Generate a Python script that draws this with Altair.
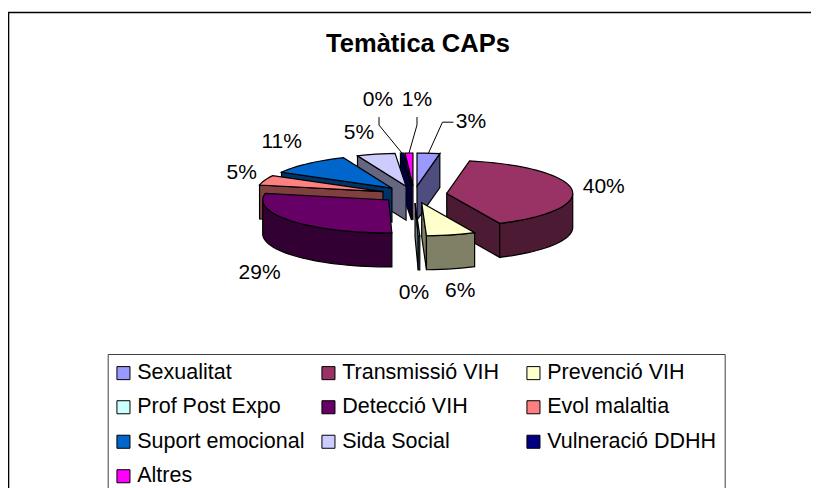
import math
import altair as alt

# ---- data
categories = ["Sexualitat", "Transmissió VIH", "Prevenció VIH", "Prof Post Expo", "Detecció VIH",
              "Evol malaltia", "Suport emocional", "Sida Social", "Vulneració DDHH", "Altres"]
values = [2.9, 40.2, 6.3, 0.2, 28.6, 4.8, 10.7, 4.9, 0.4, 1.0]
top_colors = ["#9999FF", "#993366", "#FFFFCC", "#CCFFFF", "#660066",
              "#FF8080", "#0066CC", "#CCCCFF", "#000080", "#FF00FF"]
wall_colors = ["#4D4D80", "#4D1A33", "#808066", "#668080", "#330033",
               "#804040", "#003366", "#666680", "#000040", "#800080"]
title_text = "Temàtica CAPs"

# ---- layout of the 3D pie (pixels inside the chart)
W, H = 803, 480
CX, CY = 406.0, 186.5
RX, RY = 126.0, 33.0
EX, EY = 33.0, 8.5
DEPTH = 34.0
paint_order = [0, 9, 8, 7, 6, 5, 4, 3, 1, 2]
label_nudge = [(42.5, -31), (32, -2), (9, 56), (-5, 57), (-32.5, 52),
               (-23, -7), (-26, -22), (-17, -21), (-24, -53), (8, -53)]
leaders = {0: [(14, -31), (25, -31)], 8: [(-23, -28), (-23, -36)], 9: [(8, -28), (8, -36)]}

total = sum(values)
edges = [0.0]
for v in values:
    edges.append(edges[-1] + v / total * 2 * math.pi)


def rim(ax, ay, t, drop=0.0):
    return [ax + RX * math.sin(t), ay - RY * math.cos(t) + drop]


def feature(coords, key):
    ring = [[round(x, 2), round(y, 2)] for x, y in coords]
    ring.append(ring[0])
    return {"type": "Feature", "properties": {"key": key},
            "geometry": {"type": "Polygon", "coordinates": [ring]}}


features, labels, leader_rows = [], [], []
for i in paint_order:
    t0, t1 = edges[i], edges[i + 1]
    mid = (t0 + t1) / 2
    ax, ay = CX + EX * math.sin(mid), CY - EY * math.cos(mid)
    wall = categories[i] + " (wall)"
    if math.sin(t0) < -1e-6:
        features.append(feature([[ax, ay], rim(ax, ay, t0), rim(ax, ay, t0, DEPTH), [ax, ay + DEPTH]], wall))
    if math.sin(t1) > 1e-6:
        features.append(feature([[ax, ay], rim(ax, ay, t1), rim(ax, ay, t1, DEPTH), [ax, ay + DEPTH]], wall))
    lo, hi = max(t0, math.pi / 2), min(t1, 3 * math.pi / 2)
    if hi > lo:
        n = max(2, int((hi - lo) / 0.05))
        ts = [lo + (hi - lo) * k / n for k in range(n + 1)]
        features.append(feature([rim(ax, ay, t) for t in ts] + [rim(ax, ay, t, DEPTH) for t in reversed(ts)], wall))
    n = max(2, int((t1 - t0) / 0.05))
    features.append(feature([[ax, ay]] + [rim(ax, ay, t0 + (t1 - t0) * k / n) for k in range(n + 1)], categories[i]))

    bx = CX + (EX + RX) * math.sin(mid)
    by = CY - (EY + RY) * math.cos(mid)
    labels.append({"x": bx + label_nudge[i][0], "y": by + label_nudge[i][1], "t": f"{round(values[i])}%"})
    if i in leaders:
        pts = [(0, 0)] + leaders[i]
        for k, (dx, dy) in enumerate(pts):
            leader_rows.append({"s": categories[i], "o": k, "x": bx + dx, "y": by + dy})

FONT = "Liberation Sans"
domain = categories + [c + " (wall)" for c in categories]
rng = top_colors + wall_colors

pie = alt.Chart(alt.InlineData(values=features, format=alt.DataFormat(type="json"))).mark_geoshape(
    stroke="black", strokeWidth=1.2
).encode(
    color=alt.Color("properties.key:N", scale=alt.Scale(domain=domain, range=rng), legend=alt.Legend(
        values=categories, title=None, orient="none", legendX=99.7, legendY=346, columns=3,
        direction="horizontal", gridAlign="all", symbolType="square", symbolSize=170,
        symbolOffset=-3, symbolStrokeColor="black", symbolStrokeWidth=1, labelFont=FONT,
        labelFontSize=21.5, labelColor="black", labelLimit=300, labelOffset=3, columnPadding=13,
        rowPadding=11.5, padding=8, strokeColor="#404040", fillColor="white")),
    tooltip=alt.value(None),
).project(type="identity", scale=1, translate=[0, 0])

text = alt.Chart(alt.Data(values=labels)).mark_text(
    font=FONT, fontSize=21, color="black", align="center", baseline="middle"
).encode(x=alt.X("x:Q", scale=None), y=alt.Y("y:Q", scale=None), text="t:N")

lead = alt.Chart(alt.Data(values=leader_rows)).mark_line(color="black", strokeWidth=1).encode(
    x=alt.X("x:Q", scale=None), y=alt.Y("y:Q", scale=None), detail="s:N", order="o:Q")

frame_top = alt.Chart(alt.Data(values=[{"a": 0}])).mark_rule(color="black", strokeWidth=1.6).encode(
    x=alt.value(0), x2=alt.value(W), y=alt.value(4.5))
frame_left = alt.Chart(alt.Data(values=[{"a": 0}])).mark_rule(color="black", strokeWidth=1.6).encode(
    x=alt.value(0.5), y=alt.value(4.5), y2=alt.value(H))

chart = alt.layer(frame_top, frame_left, pie, lead, text).properties(
    width=W, height=H, padding=0, autosize=alt.AutoSizeParams(type="none"),
    title=alt.TitleParams(title_text, anchor="middle", font=FONT, fontSize=25.5, fontWeight="bold",
                          color="black", dy=53, dx=8.5),
).configure_view(stroke=None)

chart.save("out.html", embed_options={"renderer": "svg", "actions": False})
